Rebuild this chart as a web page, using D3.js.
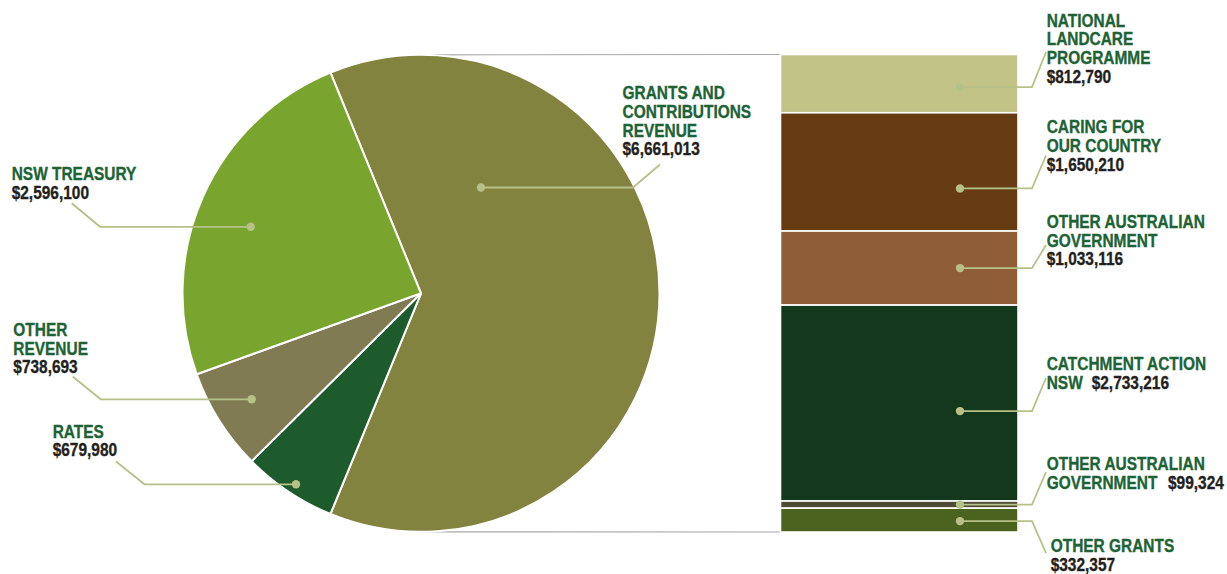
<!DOCTYPE html>
<html>
<head>
<meta charset="utf-8">
<script src="https://cdn.jsdelivr.net/npm/d3@7"></script>
<style>
  html, body { margin: 0; padding: 0; background: #fff; }
  svg { display: block; }
  text { font-family: "Liberation Sans", Arial, sans-serif; font-weight: bold; font-size: 18.5px; }
</style>
</head>
<body>
<svg id="chart" width="1227" height="574"></svg>
<script>
// Revenue sources (pie), clockwise from the grants slice
const revenueNames = ["GRANTS AND CONTRIBUTIONS REVENUE", "RATES", "OTHER REVENUE", "NSW TREASURY"];
const revenueValues = [6661013, 679980, 738693, 2596100];
const revenueColors = ["#838340", "#1d5a2c", "#807b53", "#79a42e"];

// Breakdown of grants and contributions (stacked bar), top to bottom
const grantNames = ["NATIONAL LANDCARE PROGRAMME", "CARING FOR OUR COUNTRY", "OTHER AUSTRALIAN GOVERNMENT",
                    "CATCHMENT ACTION NSW", "OTHER AUSTRALIAN GOVERNMENT", "OTHER GRANTS"];
const grantValues = [812790, 1650210, 1033116, 2733216, 99324, 332357];
const grantColors = ["#c2c386", "#683c13", "#8f5e37", "#14381c", "#4f4a33", "#4b631f"];

const fmt = v => "$" + d3.format(",")(v);

const svg = d3.select("#chart");
const GREEN = "#1d6335", DARK = "#231f20", LEAD = "#b6c188";
const SQUEEZE = 0.835; // condensed lettering

// ---- geometry
const cx = 421, cy = 293.3, R = 238.5;
const barX0 = 780.5, barX1 = 1018;
const total = d3.sum(revenueValues);
const grantsTotal = d3.sum(grantValues);
const y = d3.scaleLinear().domain([0, grantsTotal]).range([54.5, 532]);

// ---- connector lines between pie and bar
svg.append("line").attr("x1", cx).attr("y1", cy - R).attr("x2", barX0).attr("y2", y(0))
   .attr("stroke", "#a8a8a8").attr("stroke-width", 1.2);
svg.append("line").attr("x1", cx).attr("y1", cy + R).attr("x2", barX0).attr("y2", y(grantsTotal))
   .attr("stroke", "#a8a8a8").attr("stroke-width", 1.2);

// ---- pie, with the grants slice centred on the right
const start = Math.PI / 2 - (revenueValues[0] / total) * Math.PI;
const pie = d3.pie().sort(null).value(d => d).startAngle(start).endAngle(start + 2 * Math.PI);
const arc = d3.arc().innerRadius(0).outerRadius(R);
svg.append("g").attr("transform", `translate(${cx},${cy})`)
  .selectAll("path").data(pie(revenueValues)).join("path")
  .attr("d", arc).attr("fill", (d, i) => revenueColors[i])
  .attr("stroke", "#fff").attr("stroke-width", 2).attr("stroke-linejoin", "round");

// ---- stacked bar
const stacked = [];
let acc = 0;
grantValues.forEach((v, i) => { stacked.push({ i, y0: acc, y1: acc + v }); acc += v; });
svg.append("g").selectAll("rect").data(stacked).join("rect")
  .attr("x", barX0).attr("width", barX1 - barX0)
  .attr("y", d => y(d.y0)).attr("height", d => y(d.y1) - y(d.y0))
  .attr("fill", d => grantColors[d.i])
  .attr("stroke", "#fff").attr("stroke-width", 1.6);

// ---- leader lines
function leader(pts) {
  svg.append("path").attr("d", d3.line()(pts)).attr("fill", "none")
     .attr("stroke", LEAD).attr("stroke-width", 1.8);
  svg.append("circle").attr("cx", pts[0][0]).attr("cy", pts[0][1]).attr("r", 4.2).attr("fill", LEAD);
}

// pie leaders: dot, elbow, end
const pieLeaders = [
  [[481, 187.5], [633, 187.5], [660, 164.5]],
  [[296, 484.3], [144.5, 484.3], [116, 461.5]],
  [[251.7, 399.3], [100.7, 399.3], [72.7, 376.5]],
  [[250.7, 226.8], [100, 226.8], [71.7, 203.3]]
];
pieLeaders.forEach(leader);

// bar leaders: dot sits inside each segment, offset from its middle
const barDotDy = [3.5, 16.5, 0, 8, 0, 1];
const barEnds = [52, 155.5, 245, 378, 472, 553];
stacked.forEach((d, k) => {
  const yy = (y(d.y0) + y(d.y1)) / 2 + barDotDy[k];
  leader([[960, yy], [1032, yy], [1046, barEnds[k]]]);
});

// ---- labels (horizontally condensed, slightly heavier stroke)
function txt(x, yy, s, fill) {
  svg.append("text").attr("transform", `translate(${x},${yy}) scale(${SQUEEZE},1)`)
     .attr("fill", fill).attr("stroke", fill).attr("stroke-width", 0.35).text(s);
}
function label(x, y0, lines, value, valueInline) {
  lines.forEach((t, j) => txt(x, y0 + j * 18.6, t, GREEN));
  if (valueInline) txt(valueInline, y0 + (lines.length - 1) * 18.6, value, DARK);
  else txt(x, y0 + lines.length * 18.6, value, DARK);
}

label(622.5, 99.3, ["GRANTS AND", "CONTRIBUTIONS", "REVENUE"], fmt(revenueValues[0]));
label(11.7, 180, ["NSW TREASURY"], fmt(revenueValues[3]));
label(13.3, 336, ["OTHER", "REVENUE"], fmt(revenueValues[2]));
label(52.7, 437.7, ["RATES"], fmt(revenueValues[1]));

label(1046.7, 26.7, ["NATIONAL", "LANDCARE", "PROGRAMME"], fmt(grantValues[0]));
label(1046.7, 133.4, ["CARING FOR", "OUR COUNTRY"], fmt(grantValues[1]));
label(1046.7, 228, ["OTHER AUSTRALIAN", "GOVERNMENT"], fmt(grantValues[2]));
label(1046.7, 370, ["CATCHMENT ACTION", "NSW"], fmt(grantValues[3]), 1091.7);
label(1046.7, 470, ["OTHER AUSTRALIAN", "GOVERNMENT"], fmt(grantValues[4]), 1168);
label(1050.7, 552.3, ["OTHER GRANTS"], fmt(grantValues[5]));
</script>
</body>
</html>
